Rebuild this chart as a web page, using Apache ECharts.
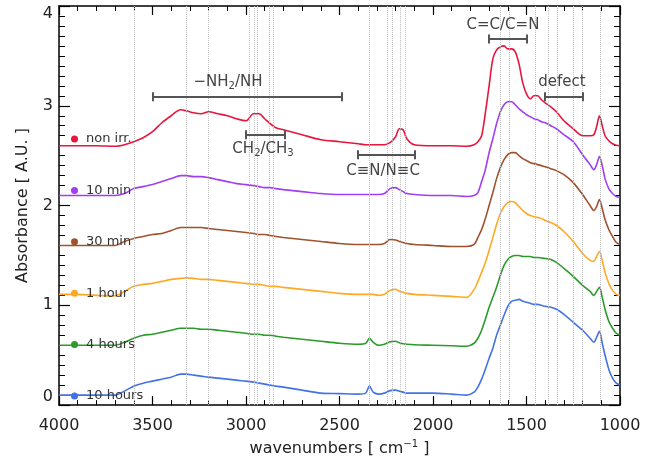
<!DOCTYPE html>
<html><head><meta charset="utf-8">
<script src="https://cdn.jsdelivr.net/npm/echarts@6/dist/echarts.min.js"></script>
<style>html,body{margin:0;padding:0;background:#fff}#c{width:667px;height:462px}</style>
</head><body><div id="c"></div>
<script>
const wavenumbers = [4000,3900,3800,3700,3650,3600,3550,3500,3450,3400,
  3350,3320,3280,3240,3200,3150,3100,3050,3000,
  2960,2930,2900,2870,2840,2800,
  2700,2600,2500,2400,
  2360,2340,2320,2290,2260,2230,2200,2180,2160,2140,
  2100,2000,1900,1820,
  1780,1760,1740,1720,1700,1680,1660,1640,1620,1600,1580,1560,1540,1520,1500,1480,1460,1440,1420,1400,
  1370,1340,1300,1250,1200,1160,1140,1125,1110,1095,1080,1060,1040,1020,1000];

const nonIrr = [2.60,2.60,2.60,2.595,2.61,2.64,2.68,2.74,2.83,2.90,
  2.96,2.95,2.93,2.92,2.94,2.92,2.90,2.87,2.85,
  2.92,2.92,2.87,2.82,2.78,2.76,
  2.71,2.66,2.64,2.62,
  2.61,2.61,2.61,2.61,2.61,2.63,2.69,2.77,2.76,2.67,
  2.61,2.60,2.60,2.595,
  2.61,2.64,2.70,2.93,3.20,3.47,3.56,3.59,3.60,3.57,3.57,3.54,3.42,3.23,3.12,3.07,3.10,3.10,3.06,3.03,
  2.99,2.94,2.85,2.77,2.70,2.70,2.71,2.79,2.90,2.80,2.70,2.65,2.62,2.605,2.60];

const min10 = [2.10,2.10,2.10,2.10,2.12,2.17,2.19,2.21,2.24,2.27,
  2.30,2.30,2.29,2.29,2.28,2.26,2.24,2.22,2.21,
  2.20,2.19,2.18,2.18,2.17,2.16,
  2.14,2.12,2.11,2.11,
  2.11,2.11,2.11,2.11,2.12,2.17,2.18,2.16,2.14,2.12,
  2.11,2.10,2.10,2.09,
  2.10,2.13,2.24,2.36,2.53,2.67,2.82,2.94,3.01,3.04,3.04,3.01,2.97,2.94,2.91,2.89,2.87,2.86,2.84,2.83,
  2.80,2.77,2.71,2.64,2.51,2.41,2.36,2.41,2.49,2.40,2.27,2.17,2.12,2.09,2.08];

const min30 = [1.60,1.60,1.60,1.60,1.64,1.67,1.69,1.71,1.72,1.75,
  1.78,1.78,1.78,1.78,1.77,1.76,1.75,1.74,1.73,
  1.72,1.71,1.71,1.70,1.69,1.68,
  1.66,1.64,1.62,1.61,
  1.61,1.61,1.61,1.61,1.62,1.66,1.655,1.64,1.63,1.62,
  1.61,1.60,1.59,1.59,
  1.61,1.68,1.76,1.87,2.00,2.13,2.27,2.38,2.46,2.51,2.53,2.53,2.50,2.47,2.45,2.43,2.42,2.41,2.40,2.39,
  2.37,2.35,2.31,2.23,2.11,2.00,1.95,1.99,2.06,1.97,1.86,1.76,1.69,1.63,1.61];

const hour1 = [1.11,1.11,1.10,1.095,1.14,1.19,1.21,1.22,1.24,1.26,
  1.27,1.275,1.27,1.26,1.26,1.25,1.24,1.23,1.22,
  1.21,1.21,1.20,1.19,1.19,1.18,
  1.16,1.14,1.12,1.11,
  1.11,1.11,1.11,1.10,1.11,1.15,1.16,1.14,1.13,1.12,
  1.11,1.10,1.09,1.08,
  1.16,1.24,1.33,1.43,1.55,1.68,1.81,1.92,1.99,2.03,2.04,2.03,1.99,1.95,1.92,1.90,1.89,1.88,1.87,1.85,
  1.83,1.80,1.74,1.64,1.52,1.45,1.44,1.49,1.54,1.45,1.33,1.22,1.15,1.11,1.10];

const hours4 = [0.60,0.60,0.60,0.60,0.63,0.67,0.70,0.71,0.73,0.75,
  0.77,0.77,0.77,0.76,0.76,0.75,0.74,0.73,0.72,
  0.71,0.71,0.70,0.70,0.69,0.68,
  0.66,0.64,0.62,0.61,
  0.62,0.67,0.63,0.60,0.61,0.635,0.64,0.625,0.615,0.61,
  0.605,0.60,0.595,0.59,
  0.62,0.67,0.75,0.86,0.98,1.08,1.18,1.30,1.40,1.46,1.49,1.50,1.50,1.49,1.49,1.49,1.48,1.48,1.475,1.47,
  1.46,1.43,1.37,1.29,1.20,1.14,1.10,1.14,1.18,1.08,0.96,0.84,0.77,0.72,0.70];

const hours10 = [0.10,0.10,0.10,0.10,0.14,0.19,0.22,0.24,0.26,0.28,
  0.31,0.31,0.30,0.29,0.28,0.27,0.26,0.25,0.24,
  0.23,0.22,0.21,0.20,0.19,0.18,
  0.15,0.12,0.115,0.11,
  0.12,0.19,0.13,0.11,0.12,0.145,0.15,0.14,0.13,0.12,
  0.12,0.12,0.11,0.10,
  0.13,0.18,0.26,0.36,0.47,0.57,0.70,0.80,0.90,0.99,1.04,1.05,1.06,1.04,1.03,1.02,1.01,1.01,1.00,0.99,
  0.98,0.96,0.91,0.83,0.75,0.67,0.63,0.68,0.74,0.62,0.50,0.36,0.27,0.22,0.20];

const seriesNames = ['non irr.','10 min','30 min','1 hour','4 hours','10 hours'];
const seriesValues = [nonIrr, min10, min30, hour1, hours4, hours10];
const seriesColors = ['#e8163c','#a23ef2','#a0522d','#ffa824','#2b9b2b','#4472e6'];

const xTickLabels = [4000,3500,3000,2500,2000,1500,1000];
const yTickLabels = [0,1,2,3,4];

const dottedLines = [3600,3320,3200,2980,2955,2938,2877,2852,2340,2245,2218,2176,2150,1640,1590,1455,1382,1338,1250,1203,1108];

// bracket: [fromWn, toWn, absorbance]
const brackets = [[3500,2490,3.09],[3000,2795,2.71],[2400,2095,2.51],[1700,1497,3.67],[1400,1198,3.09]];
// annotation: [text, wn, absorbance]
const annotations = [
  ['\u2212NH{sub|2}/NH', 3096, 3.24],
  ['CH{sub|2}/CH{sub|3}', 2909, 2.57],
  ['C\u2261N/N\u2261C', 2267, 2.35],
  ['C=C/C=N', 1626, 3.81],
  ['defect', 1310, 3.24]
];

const FONT = 'DejaVu Sans';
const chart = echarts.init(document.getElementById('c'), null, {renderer:'canvas'});

function xAx(pos, show) {
  return {
    type:'value', min:1000, max:4000, interval:500, inverse:true, position:pos,
    axisLine:{show:true, onZero:false, lineStyle:{color:'#000', width:1.5}},
    axisTick:{show:true, inside:true, length:9, lineStyle:{color:'#000', width:1.2}},
    minorTick:{show:true, splitNumber:5, length:5, lineStyle:{color:'#000', width:1}},
    splitLine:{show:false},
    axisLabel:{show:show, margin:13, fontSize:16, color:'#222', fontFamily:FONT,
      formatter: v => xTickLabels.includes(v) ? String(v) : ''},
    name: show ? 'wavenumbers [ cm{sup|\u22121} ]' : '',
    nameLocation:'middle', nameGap:30,
    nameTextStyle:{fontSize:16, color:'#222', fontFamily:FONT,
      rich:{sup:{fontSize:10, fontFamily:FONT, color:'#222', padding:[0,0,10,0]}}}
  };
}
function yAx(pos, show) {
  return {
    type:'value', min:0, max:4, interval:1, position:pos,
    axisLine:{show:true, onZero:false, lineStyle:{color:'#000', width:1.5}},
    axisTick:{show:true, inside:true, length:11, lineStyle:{color:'#000', width:1.2}},
    minorTick:{show:true, splitNumber:10, length:6, lineStyle:{color:'#000', width:1}},
    splitLine:{show:false},
    axisLabel:{show:show, margin:6, fontSize:16, color:'#222', fontFamily:FONT,
      verticalAlignMaxLabel:'top', verticalAlignMinLabel:'bottom',
      formatter: v => yTickLabels.includes(v) ? String(v) : ''},
    name: show ? 'Absorbance [ A.U. ]' : '',
    nameLocation:'middle', nameGap:28, nameRotate:90,
    nameTextStyle:{fontSize:16, color:'#222', fontFamily:FONT}
  };
}

const series = [];
series.push({
  type:'line', name:'_grid', data:[], z:1, silent:true,
  xAxisIndex:0, yAxisIndex:0,
  markLine:{silent:true, symbol:['none','none'], animation:false,
    label:{show:false},
    lineStyle:{type:'dotted', color:'#bdbdbd', width:1},
    data: dottedLines.map(w => ({xAxis:w}))}
});
seriesNames.forEach((n,i) => {
  series.push({
    type:'line', name:n, z:3, showSymbol:false, symbol:'none', smooth:0.3,
    color:seriesColors[i],
    lineStyle:{color:seriesColors[i], width:1.6},
    data: wavenumbers.map((w,j) => [w, seriesValues[i][j]]),
    animation:false
  });
});
const bracketLines = [];
brackets.forEach(b => {
  bracketLines.push([{coord:[b[0], b[2]]},{coord:[b[1], b[2]]}]);
  bracketLines.push([{coord:[b[0], b[2]-0.045]},{coord:[b[0], b[2]+0.045]}]);
  bracketLines.push([{coord:[b[1], b[2]-0.045]},{coord:[b[1], b[2]+0.045]}]);
});
series.push({
  type:'line', name:'_annot', data:[], z:5, silent:true,
  markLine:{silent:true, symbol:['none','none'], animation:false,
    label:{show:false},
    lineStyle:{type:'solid', color:'#555', width:2},
    data: bracketLines},
  markPoint:{silent:true, animation:false, symbol:'circle', symbolSize:1,
    itemStyle:{color:'rgba(0,0,0,0)'},
    label:{show:true, position:'inside', fontSize:15, color:'#444', fontFamily:FONT,
      rich:{sub:{fontSize:10, color:'#444', fontFamily:FONT, padding:[9,0,0,0]}}},
    data: annotations.map(a => ({coord:[a[1], a[2]], value:0, label:{formatter:a[0]}}))}
});

chart.setOption({
  animation:false,
  backgroundColor:'#fff',
  grid:{left:59, right:47, top:6, bottom:54, containLabel:false},
  legend:{data:seriesNames, orient:'vertical', left:66, top:127, itemGap:37.4,
    itemWidth:7, itemHeight:7, icon:'circle', selectedMode:false,
    textStyle:{fontSize:13, color:'#333', fontFamily:FONT, lineHeight:14, padding:[0,0,0,3]}},
  xAxis:[xAx('bottom', true), xAx('top', false)],
  yAxis:[yAx('left', true), yAx('right', false)],
  series: series
});
</script></body></html>
